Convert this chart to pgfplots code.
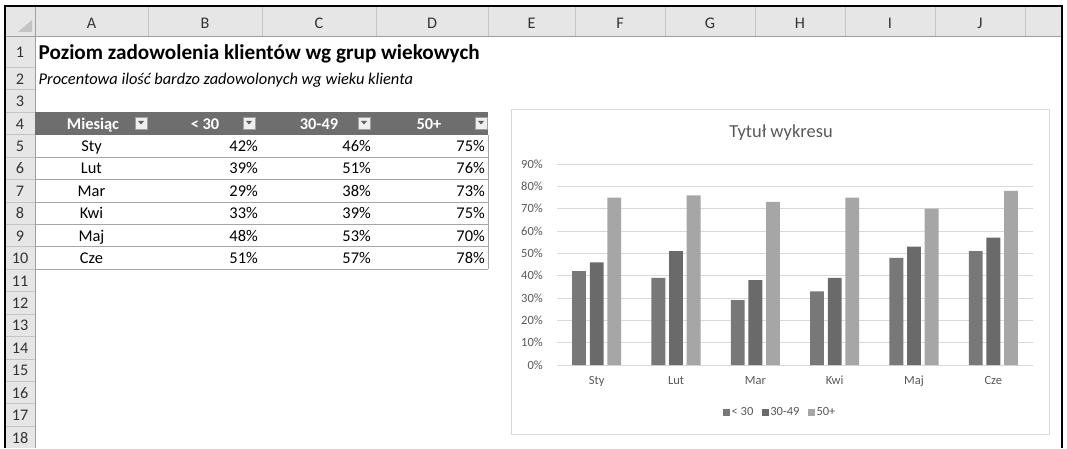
\documentclass[border=0pt]{standalone}
\usepackage{fontspec}
\setmainfont{Carlito}
\usepackage{pgfplots}
\pgfplotsset{compat=1.18}
\definecolor{hdr}{HTML}{E6E6E6}
\definecolor{hsep}{HTML}{C4C4C4}
\definecolor{hline}{HTML}{9E9E9E}
\definecolor{rowtxt}{HTML}{333333}
\definecolor{tblhead}{HTML}{6E6E6E}
\definecolor{tblline}{HTML}{A6A6A6}
\definecolor{btn}{HTML}{EFEFEF}
\definecolor{btnb}{HTML}{A0A0A0}
\definecolor{btna}{HTML}{606060}
\definecolor{chartb}{HTML}{D9D9D9}
\definecolor{gridc}{HTML}{D9D9D9}
\definecolor{txt}{HTML}{595959}
\definecolor{cA}{HTML}{787878}
\definecolor{cB}{HTML}{6A6A6A}
\definecolor{cC}{HTML}{A6A6A6}
\begin{document}
\begin{tikzpicture}[x=1pt,y=1pt,
  rn/.style={anchor=base, inner sep=0pt, font=\fontsize{16.2}{19}\selectfont, text=rowtxt},
  cell/.style={inner sep=0pt, font=\fontsize{16.4}{19}\selectfont, text=black}]
\useasboundingbox (0,0) rectangle (1067,448);
\fill[white] (0,0) rectangle (1067,448);
% column header band and row header column
\fill[hdr] (5,411) rectangle (1062,442);
\fill[hdr] (5,0) rectangle (35,411);
\foreach \x in {148,262,376,488,575,665,755,845,935,1025}
  \draw[hsep, line width=0.8pt] (\x,411) -- (\x,442);
\draw[hline, line width=1pt] (5,411) -- (1062,411);
\draw[hline, line width=1pt] (35,0) -- (35,442);
\foreach \r in {1,...,17}
  \draw[hsep, line width=0.8pt] (5,{448-(67.4+(\r-1)*22.43)}) -- (35,{448-(67.4+(\r-1)*22.43)});
% corner triangle
\fill[hsep] (32,428) -- (32,416) -- (18,416) -- cycle;
% screenshot frame
\draw[black, line width=1.3pt] (5,0) -- (5,442) -- (1062,442) -- (1062,0);
% column letters
\foreach \c/\x in {A/91.5,B/205,C/319,D/432,E/531.5,F/620,G/710,H/800,I/890,J/980}
  \node[rn] at (\x,419) {\c};
% row numbers
\node[rn] at (20,{448-57.5}) {1};
\foreach \r in {2,...,18}
  \node[rn] at (20,{448-(61.8+(\r-1)*22.43)}) {\r};
% title and subtitle
\node[anchor=base west, inner sep=0pt, font=\fontsize{21.2}{25}\selectfont\bfseries] at (38.5,{448-59.5}) {Poziom zadowolenia klientów wg grup wiekowych};
\node[anchor=base west, inner sep=0pt, font=\fontsize{16.4}{19}\selectfont\itshape] at (38.5,{448-84.2}) {Procentowa ilość bardzo zadowolonych wg wieku klienta};
% table header
\fill[tblhead] (35,{448-134.7}) rectangle (488,{448-112.3});
\foreach \t/\x in {Miesiąc/93,{< 30}/205,30-49/319,50+/429}
  \node[cell, anchor=base, text=white, font=\fontsize{16.4}{19}\selectfont\bfseries] at (\x,{448-129.1}) {\t};
\foreach \xa in {135,243,358,475} {
  \filldraw[fill=btn, draw=btnb, line width=0.6pt] (\xa,319) rectangle ({\xa+12},331);
  \fill[btna] ({\xa+3},327) -- ({\xa+9},327) -- ({\xa+6},323.5) -- cycle;
}
% table rows
\foreach \r/\m/\a/\b/\d in {5/Sty/42/46/75,6/Lut/39/51/76,7/Mar/29/38/73,8/Kwi/33/39/75,9/Maj/48/53/70,10/Cze/51/57/78} {
  \node[cell, anchor=base] at (91.5,{448-(61.8+(\r-1)*22.43)}) {\m};
  \node[cell, anchor=base east] at (258,{448-(61.8+(\r-1)*22.43)}) {\a\%};
  \node[cell, anchor=base east] at (371,{448-(61.8+(\r-1)*22.43)}) {\b\%};
  \node[cell, anchor=base east] at (485,{448-(61.8+(\r-1)*22.43)}) {\d\%};
  \draw[tblline, line width=0.8pt] (35,{448-(67.4+(\r-1)*22.43)}) -- (488,{448-(67.4+(\r-1)*22.43)});
}
\draw[tblline, line width=0.8pt] (488,{448-134.7}) -- (488,{448-269.3});
% chart area
\filldraw[fill=white, draw=chartb, line width=1pt] (511,14) rectangle (1049,338);
\node[font=\fontsize{18.4}{22}\selectfont, text=txt, inner sep=0pt] at (781,{448-133}) {Tytuł wykresu};
\begin{axis}[
  at={(557pt,83pt)}, anchor=south west,
  scale only axis, width=476pt, height=201pt,
  ybar=3.76pt, bar width=13.84pt,
  xmin=-0.5, xmax=5.5, ymin=0, ymax=90,
  xtick={0,...,5}, xticklabels={Sty,Lut,Mar,Kwi,Maj,Cze},
  ytick={0,10,...,90},
  yticklabels={0\%,10\%,20\%,30\%,40\%,50\%,60\%,70\%,80\%,90\%},
  ymajorgrids, grid style={draw=gridc, line width=0.75pt},
  axis line style={draw=none}, major tick length=0pt,
  tick label style={font=\fontsize{12.5}{14}\selectfont, text=txt, inner sep=0pt},
  yticklabel style={anchor=east, xshift=-14pt},
  xticklabel style={anchor=base, yshift=-19pt},
  legend style={at={(0.4685,-0.234)}, anchor=center, draw=none, fill=none,
    legend columns=3, font=\fontsize{12.5}{14}\selectfont, text=txt,
    nodes={inner sep=1.5pt},
    /tikz/every even column/.append style={column sep=7pt}},
  legend image code/.code={\fill[#1] (0pt,-3.5pt) rectangle (7pt,3.5pt);},
  clip=false,
]
\addplot[fill=cA, draw=none] coordinates {(0,42) (1,39) (2,29) (3,33) (4,48) (5,51)};
\addplot[fill=cB, draw=none] coordinates {(0,46) (1,51) (2,38) (3,39) (4,53) (5,57)};
\addplot[fill=cC, draw=none] coordinates {(0,75) (1,76) (2,73) (3,75) (4,70) (5,78)};
\legend{< 30,30-49,50+}
\end{axis}
\end{tikzpicture}
\end{document}
